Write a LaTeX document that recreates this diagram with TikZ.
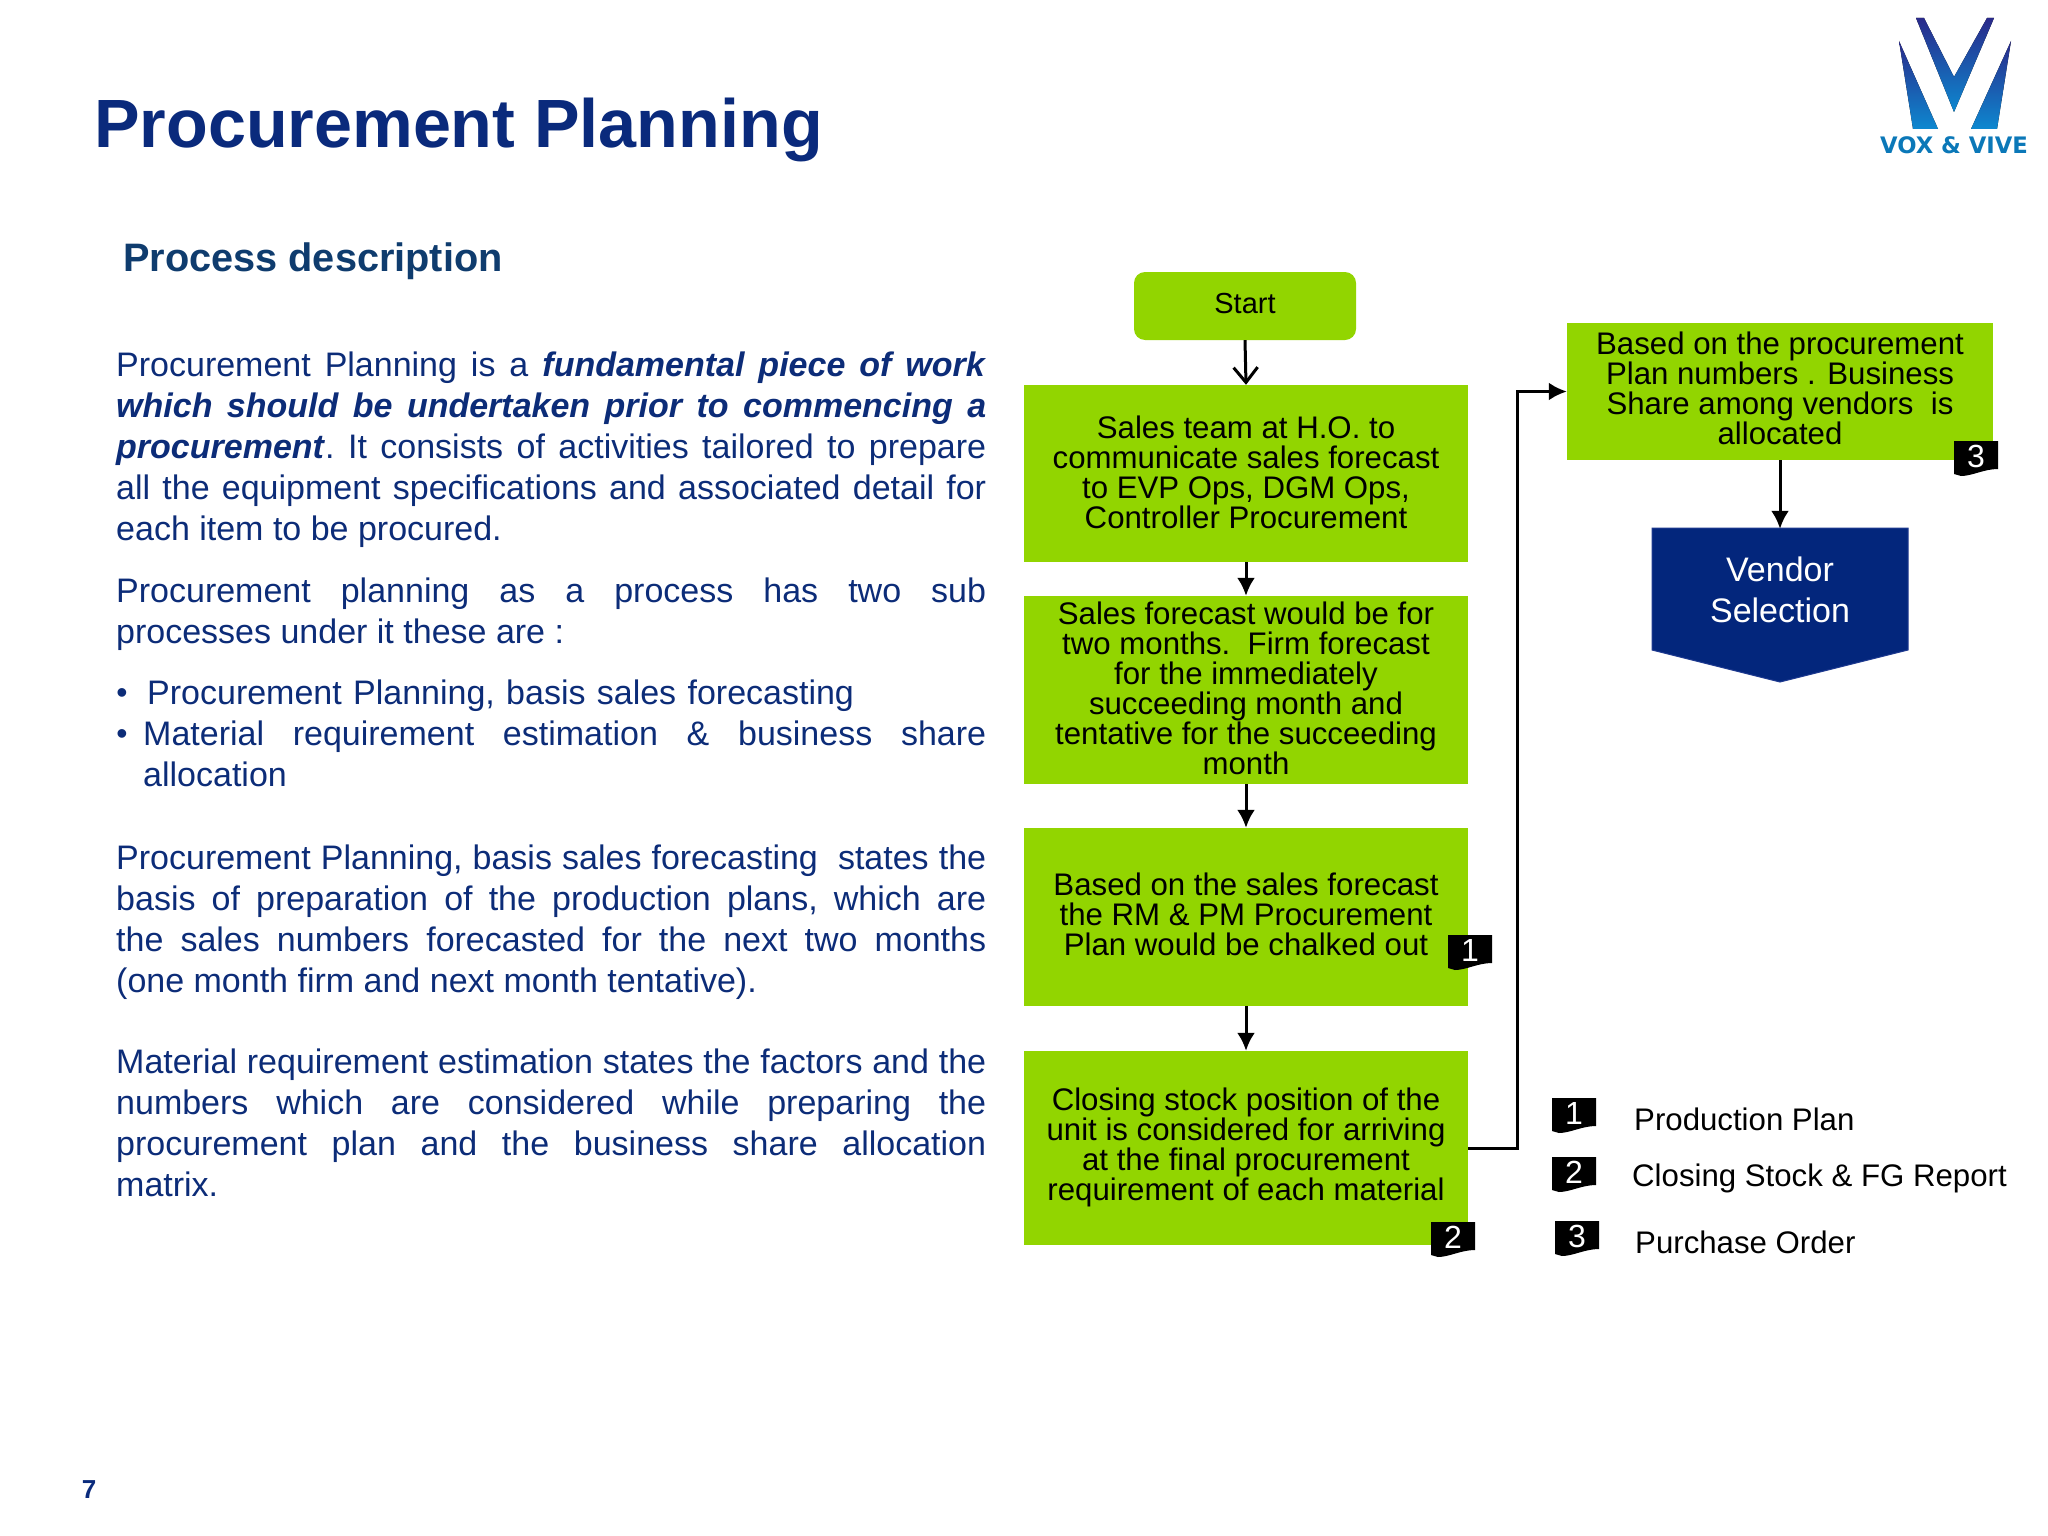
\documentclass[tikz,border=0pt]{standalone}
\usepackage{fontspec}
\setmainfont{Liberation Sans}
\newfontfamily\logofont{DejaVu Sans}
\usetikzlibrary{arrows.meta}
\definecolor{navy}{HTML}{0A2A7C}
\definecolor{bodyblue}{HTML}{0C2C78}
\definecolor{subblue}{HTML}{0F3C6E}
\definecolor{flowgreen}{HTML}{92D500}
\definecolor{vendorblue}{HTML}{03267C}
\definecolor{vendorline}{HTML}{1F3A90}
\definecolor{logoblue}{HTML}{0B78B8}
\definecolor{logotop}{HTML}{2A2A8A}
\definecolor{logobot}{HTML}{0D88D0}
\newcommand{\fsz}[2]{\fontsize{#1}{#2}\selectfont}
\newcommand{\flagtag}[4]{% name, x, y, number
  \fill[black] (#2,#3) -- (#2+44,#3) -- (#2+44,#3+28)
    .. controls (#2+30,#3+28) and (#2+18,#3+35) .. (#2+7,#3+35) -- (#2,#3+33) -- cycle;
  \node[tagnum] (#1) at (#2+22,#3+15) {#4};}
\tikzset{
  flowbox/.style={fill=flowgreen,inner sep=0pt},
  flowtext/.style={inner sep=0pt,align=center,text=black,font=\fsz{31.2}{30}},
  para/.style={anchor=north west,inner sep=0pt,text width=870pt,align=justify,text=bodyblue,font=\fsz{34}{41}\frenchspacing},
  bulletmark/.style={inner sep=0pt,text=bodyblue,font=\fsz{32}{30}},
  tagnum/.style={inner sep=0pt,text=white,font=\fsz{32}{32}},
  legendtext/.style={anchor=west,inner sep=0pt,text=black,font=\fsz{31.2}{36}},
  flowarrow/.style={line width=3pt,-{Latex[length=18pt,width=18pt]}},
  openarrow/.style={line width=3pt,-{Straight Barb[length=15pt,width=24pt,line width=3pt]}},
  logowing/.style={top color=logotop,bottom color=logobot,draw=none},
}
\begin{document}
\begin{tikzpicture}[x=1pt,y=-1pt]
\useasboundingbox[fill=white] (0,0) rectangle (2048,1536);

% title
\node[anchor=west,inner sep=0pt,text=navy,font=\bfseries\fsz{68.3}{80}] (title) at (94,130) {Procurement Planning};
\node[anchor=west,inner sep=0pt,text=subblue,font=\bfseries\fsz{39.7}{46}] (sub) at (123,261) {Process description};
\node[inner sep=0pt,text=navy,font=\bfseries\fsz{26}{30}] (pg) at (89,1490) {7};

% logo
\fill[logowing] (1899,41) -- (1938,129) -- (1913,129) -- cycle;
\fill[logowing] (2011,41) -- (1997,129) -- (1971,129) -- cycle;
\fill[logowing] (1916,18) -- (1924,18) -- (1954,77) -- (1987,18) -- (1994,18) -- (1954,112) -- cycle;
\node[inner sep=0pt,text=logoblue,font=\logofont\bfseries\fsz{22.7}{26}] (logotext) at (1954,145) {VOX \& VIVE};

% left text
\node[para] (p1) at (116,352) {Procurement Planning is a \textbf{\textit{fundamental piece of work}}\linebreak
\textbf{\textit{which should be undertaken prior to commencing a}}\linebreak
\textbf{\textit{procurement}}. It consists of activities tailored to prepare\linebreak
all the equipment specifications and associated detail for\linebreak
each item to be procured.};
\node[para] (p2) at (116,578) {Procurement planning as a process has two sub\linebreak
processes under it these are :};
\node[bulletmark] (b1) at (122,696) {•};
\node[para,text width=830pt,align=left] (b1t) at (147,680) {Procurement Planning, basis sales forecasting};
\node[bulletmark] (b2) at (122,737) {•};
\node[para,text width=843pt] (b2t) at (143,721) {Material requirement estimation \& business share\linebreak
allocation};
\node[para] (p3) at (116,844.5) {Procurement Planning, basis sales forecasting\ \ states the\linebreak
basis of preparation of the production plans, which are\linebreak
the sales numbers forecasted for the next two months\linebreak
(one month firm and next month tentative).};
\node[para] (p4) at (116,1049) {Material requirement estimation states the factors and the\linebreak
numbers which are considered while preparing the\linebreak
procurement plan and the business share allocation\linebreak
matrix.};

% flow boxes
\node[flowbox,rounded corners=11pt,minimum width=222pt,minimum height=68pt] (start) at (1245,306) {};
\node[flowtext,font=\fsz{29}{30}] (start-t) at (1245,304) {Start};
\node[flowbox,minimum width=444pt,minimum height=177pt] (b-one) at (1246,473.5) {};
\node[flowtext] (b-one-t) at (1246,472) {Sales team at H.O. to\\communicate sales forecast\\to EVP Ops, DGM Ops,\\Controller Procurement};
\node[flowbox,minimum width=444pt,minimum height=188pt] (b-two) at (1246,690) {};
\node[flowtext] (b-two-t) at (1246,688) {Sales forecast would be for\\two months.\ \ Firm forecast\\for the immediately\\succeeding month and\\tentative for the succeeding\\month};
\node[flowbox,minimum width=444pt,minimum height=178pt] (b-three) at (1246,917) {};
\node[flowtext] (b-three-t) at (1246,914) {Based on the sales forecast\\the RM \& PM Procurement\\Plan would be chalked out};
\node[flowbox,minimum width=444pt,minimum height=194pt] (b-four) at (1246,1148) {};
\node[flowtext] (b-four-t) at (1246,1147) {Closing stock position of the\\unit is considered for arriving\\at the final procurement\\requirement of each material};
\node[flowbox,minimum width=426pt,minimum height=137pt] (rb) at (1780,391.5) {};
\node[flowtext] (rb-t) at (1780,388) {Based on the procurement\\Plan numbers . Business\\Share among vendors\ \ is\\allocated};

% vendor
\filldraw[fill=vendorblue,draw=vendorline,line width=1pt] (1652,528) -- (1908,528) -- (1908,650) -- (1780,682) -- (1652,650) -- cycle;
\node[inner sep=0pt,minimum width=256pt,minimum height=122pt,align=center,text=white,font=\fsz{34}{41}] (vendor) at (1780,590) {Vendor\\Selection};

% connectors
\draw[openarrow] (start.south) -- (b-one.north);
\draw[flowarrow] (b-one.south) -- (b-two.north);
\draw[flowarrow] (b-two.south) -- (b-three.north);
\draw[flowarrow] (b-three.south) -- (b-four.north);
\coordinate (j1) at (1517,1148);
\coordinate (j2) at (1517,391.5);
\draw[flowarrow] (b-four.east) -- (j1) -- (j2) -- (rb.west);
\draw[flowarrow] (rb.south) -- (vendor.north);

% tags
\flagtag{t1}{1448}{935}{1}
\flagtag{t2}{1431}{1222}{2}
\flagtag{t3}{1954}{441}{3}
\flagtag{l1}{1552}{1098}{1}
\flagtag{l2}{1552}{1157}{2}
\flagtag{l3}{1555}{1221}{3}

% legend
\node[legendtext] (lt1) at (1634,1119) {Production Plan};
\node[legendtext] (lt2) at (1632,1178) {Closing Stock \& FG Report};
\node[legendtext] (lt3) at (1635,1242) {Purchase Order};
\end{tikzpicture}
\end{document}
